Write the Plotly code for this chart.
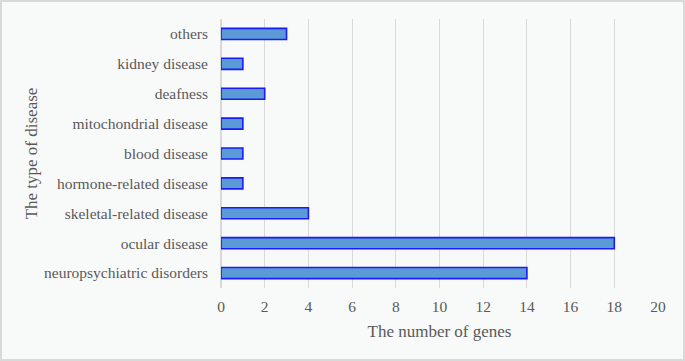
import plotly.graph_objects as go

categories = ["neuropsychiatric disorders", "ocular disease", "skeletal-related disease",
              "hormone-related disease", "blood disease", "mitochondrial disease",
              "deafness", "kidney disease", "others"]
genes = [14, 18, 4, 1, 1, 1, 2, 1, 3]
x_ticks = list(range(0, 21, 2))

W, H = 685, 361
L, R, T, B = 221, 27, 19, 73
pw, ph = W - L - R, H - T - B

fig = go.Figure(go.Bar(
    x=genes, y=categories, orientation="h", width=0.37,
    marker=dict(color="#5b9bd5", line=dict(color="#1a1aff", width=1.6)),
))

font = "Liberation Serif"
fig.update_layout(
    width=W, height=H,
    margin=dict(l=L, r=R, t=T, b=B, autoexpand=False),
    paper_bgcolor="#f8f9f9", plot_bgcolor="#f8f9f9",
    font=dict(family=font, color="#595959", size=15.5),
    showlegend=False,
    xaxis=dict(range=[0, 20], tickvals=x_ticks, showgrid=True, gridcolor="#d9d9d9",
               gridwidth=1, zeroline=True, zerolinecolor="#d9d9d9", showline=False,
               ticks="", tickfont=dict(size=15.5), automargin=False,
               ticklabelstandoff=7,
               title=dict(text="The number of genes", font=dict(size=17), standoff=11)),
    yaxis=dict(showgrid=False, ticks="", showline=False, tickfont=dict(size=15.5),
               ticklabelstandoff=12, automargin=False,
               title=dict(text="The type of disease", font=dict(size=17), standoff=2)),
    shapes=[dict(type="rect", xref="paper", yref="paper",
                 x0=-(L - 1) / pw, x1=1 + (R - 1) / pw,
                 y0=-(B - 1) / ph, y1=1 + (T - 1) / ph,
                 line=dict(color="#d9d9d9", width=2), layer="below")],
)

fig.write_html("out.html", config={"displayModeBar": False},
               post_script="document.body.style.margin='0';")
